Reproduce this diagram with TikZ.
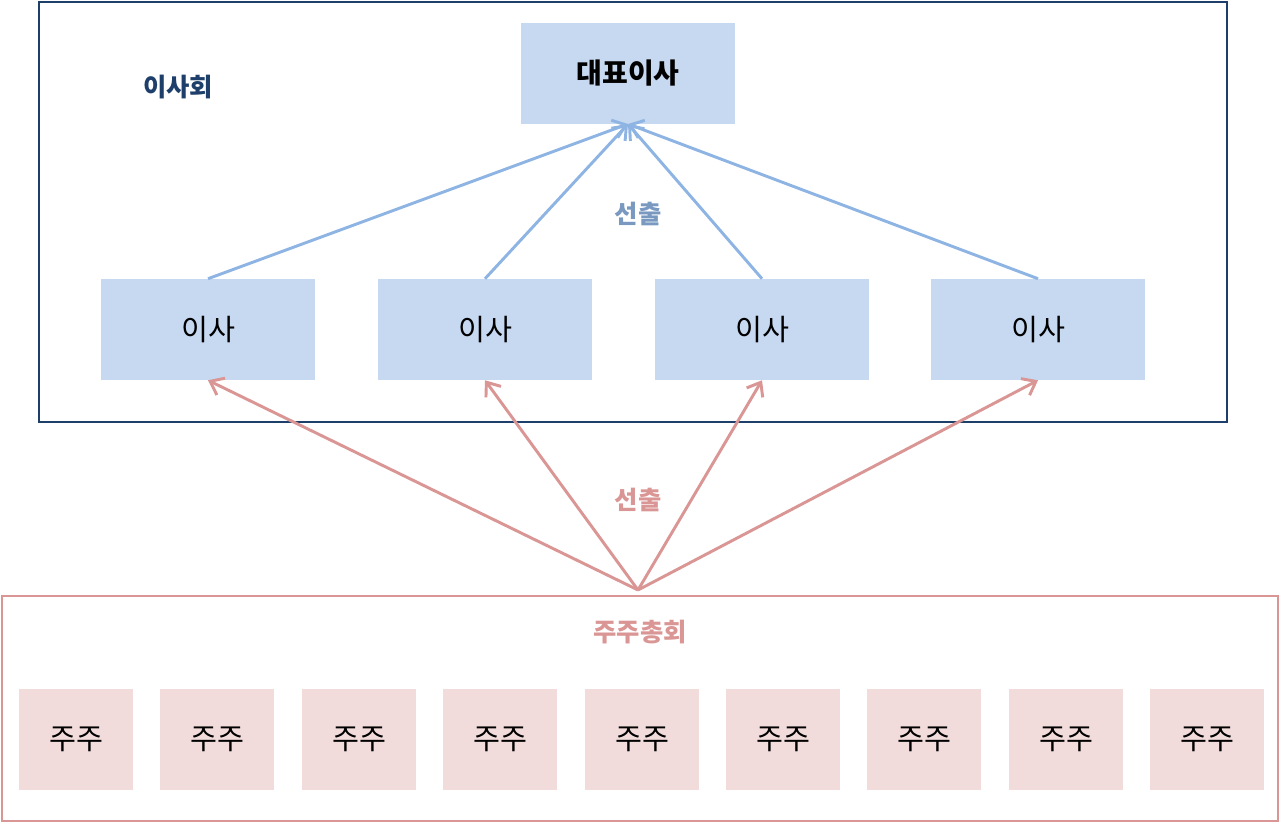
\documentclass[tikz,border=0pt]{standalone}
\usepackage{fontspec}
\setmainfont{Noto Sans CJK KR}
\usetikzlibrary{arrows.meta}
\definecolor{dblue}{HTML}{1F3F6B}
\definecolor{lblue}{HTML}{C6D9F1}
\definecolor{ablue}{HTML}{8EB4E3}
\definecolor{pinkl}{HTML}{D99694}
\definecolor{pinkf}{HTML}{F2DCDB}
\begin{document}
\begin{tikzpicture}[x=0.75pt,y=-0.75pt,
  bbox/.style={fill=lblue,minimum width=160.5pt,minimum height=75.75pt,inner sep=0,font=\fontsize{22}{24}\selectfont},
  sbox/.style={fill=pinkf,minimum width=85.5pt,minimum height=75.75pt,inner sep=0,font=\fontsize{22}{24}\selectfont},
  barr/.style={ablue,line width=2.2pt,-{Straight Barb[length=9pt,width=14pt]}},
  parr/.style={pinkl,line width=2.2pt,-{Straight Barb[length=9pt,width=14pt]}}]
\useasboundingbox (0,0) rectangle (1280,823);
\node[draw=dblue,line width=2.2pt,minimum width=891pt,minimum height=315pt,inner sep=0] (board) at (633,212) {};
\node[draw=pinkl,line width=2.2pt,minimum width=957pt,minimum height=168.75pt,inner sep=0] (gm) at (640,708.5) {};
\node[text=dblue,font=\bfseries\fontsize{19}{21}\selectfont] (bl) at (178,87) {이사회};
\node[bbox,font=\bfseries\fontsize{21}{23}\selectfont] (ceo) at (628,73.5) {대표이사};
\foreach \i/\x in {1/208,2/485,3/762,4/1038}{
  \node[bbox] (d\i) at (\x,329.5) {이사};
}
\node[text=ablue!85!black,font=\bfseries\fontsize{19}{21}\selectfont] (s1) at (638,214) {선출};
\node[text=pinkl,font=\bfseries\fontsize{19}{21}\selectfont] (s2) at (638,500) {선출};
\node[text=pinkl,font=\bfseries\fontsize{19}{21}\selectfont] (gl) at (640,632) {주주총회};
\coordinate (ct) at (628,124);
\coordinate (src) at (638,590);
\foreach \i in {1,...,4}{
  \draw[barr] (d\i.north) -- (ct);
  \draw[parr] (src) -- (d\i.south);
}
\foreach \i/\x in {1/76,2/217,3/359,4/500,5/642,6/783,7/924,8/1066,9/1207}{
  \node[sbox] (h\i) at (\x,739.5) {주주};
}
\end{tikzpicture}
\end{document}
